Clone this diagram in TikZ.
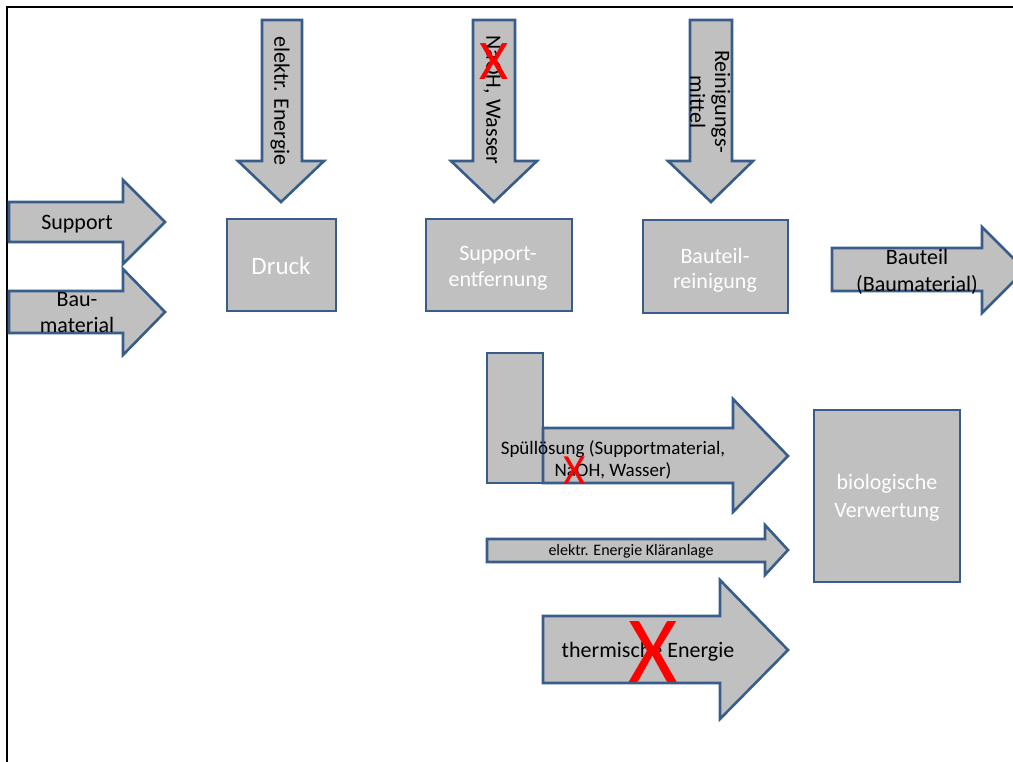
\documentclass[tikz,border=0pt]{standalone}
\usepackage{fontspec}
\setmainfont{Carlito}
\definecolor{boxgray}{RGB}{192,192,192}
\definecolor{edgeblue}{RGB}{56,93,138}
\tikzset{
    flowarrow/.style={draw=edgeblue, fill=boxgray, line width=2.6pt, line join=miter},
    procbox/.style={draw=edgeblue, fill=boxgray, line width=2.6pt},
    arrowtext/.style={inner sep=0pt, align=center, text=black, font=\fontsize{22}{26}\selectfont},
    boxtext/.style={inner sep=0pt, align=center, text=white, font=\fontsize{22}{26}\selectfont},
    crossout/.style={inner sep=0pt, text=red}
}

\begin{document}
\begin{tikzpicture}[x=1pt, y=-1pt]
    \useasboundingbox (0,0) rectangle (1013,762);
    \clip (0,0) rectangle (1013,762);

    % page frame
    \draw[line width=2.8pt, black] (7,770) -- (7,7) -- (1020,7);

    % inputs on the left
    \draw[flowarrow] (9,202) -- (123,202) -- (123,180) -- (165,222) -- (123,264) -- (123,242) -- (9,242) -- cycle;
    \draw[flowarrow] (9,291) -- (123,291) -- (123,269) -- (165,312) -- (123,355) -- (123,333) -- (9,333) -- cycle;

    % inputs from above
    \draw[flowarrow] (262,20) -- (302,20) -- (302,161) -- (324,161) -- (281,202) -- (238,161) -- (262,161) -- cycle;
    \draw[flowarrow] (473,20) -- (515,20) -- (515,161) -- (537,161) -- (494,202) -- (451,161) -- (473,161) -- cycle;
    \draw[flowarrow] (690,20) -- (732,20) -- (732,161) -- (753,161) -- (711,202) -- (668,161) -- (690,161) -- cycle;

    % process steps
    \draw[procbox] (227,219) rectangle (336,311);
    \draw[procbox] (426,219) rectangle (572,311);
    \draw[procbox] (643,220) rectangle (788,313);
    \draw[procbox] (814,410) rectangle (960,582);

    % product
    \draw[flowarrow] (832,248) -- (982,248) -- (982,227) -- (1025,270) -- (982,313) -- (982,291) -- (832,291) -- cycle;

    % rinsing solution etc.
    \draw[procbox] (487,353) rectangle (543,483);
    \draw[flowarrow] (543,428) -- (733,428) -- (733,399) -- (788,456) -- (733,512) -- (733,483) -- (543,483) -- cycle;
    \draw[flowarrow] (487,539) -- (765,539) -- (765,525) -- (788,550) -- (765,575) -- (765,562) -- (487,562) -- cycle;
    \draw[flowarrow] (543,616) -- (720,616) -- (720,580) -- (788,650) -- (720,719) -- (720,683) -- (543,683) -- cycle;

    % labels
    \node[arrowtext] (support) at (77,224) {Support};
    \node[arrowtext] (baumat) at (77,313) {Bau-\\material};
    \node[arrowtext, rotate=-90] (energie) at (280,101) {elektr. Energie};
    \node[arrowtext, rotate=-90] (naoh) at (492,100) {NaOH, Wasser};
    \node[arrowtext, rotate=-90, font=\fontsize{22}{25}\selectfont] (mittel) at (710,102) {Reinigungs-\\mittel};
    \node[arrowtext, font=\fontsize{22}{27}\selectfont] (bauteil) at (917,272) {Bauteil\\(Baumaterial)};

    \node[boxtext, font=\fontsize{25}{28}\selectfont] (druck) at (281,266) {Druck};
    \node[boxtext] (entfern) at (498,268) {Support-\\entfernung};
    \node[boxtext, font=\fontsize{22}{25}\selectfont] (reinig) at (715,270) {Bauteil-\\reinigung};
    \node[boxtext, font=\fontsize{22}{28}\selectfont] (bio) at (887,498) {biologische\\Verwertung};

    \node[arrowtext, font=\fontsize{19}{22}\selectfont] (spuel) at (613,460) {Spüllösung (Supportmaterial,\\NaOH, Wasser)};
    \node[arrowtext, font=\fontsize{16}{18}\selectfont] (klaer) at (631,551) {elektr. Energie Kläranlage};
    \node[arrowtext] (thermo) at (648,652) {thermische Energie};

    % crossed out
    \node[crossout, font=\fontsize{56}{56}\selectfont] (x1) at (494,62) {X};
    \node[crossout, font=\fontsize{43}{43}\selectfont] (x2) at (575,471) {X};
    \node[crossout, font=\fontsize{95}{95}\selectfont] (x3) at (653,652) {X};
\end{tikzpicture}
\end{document}
